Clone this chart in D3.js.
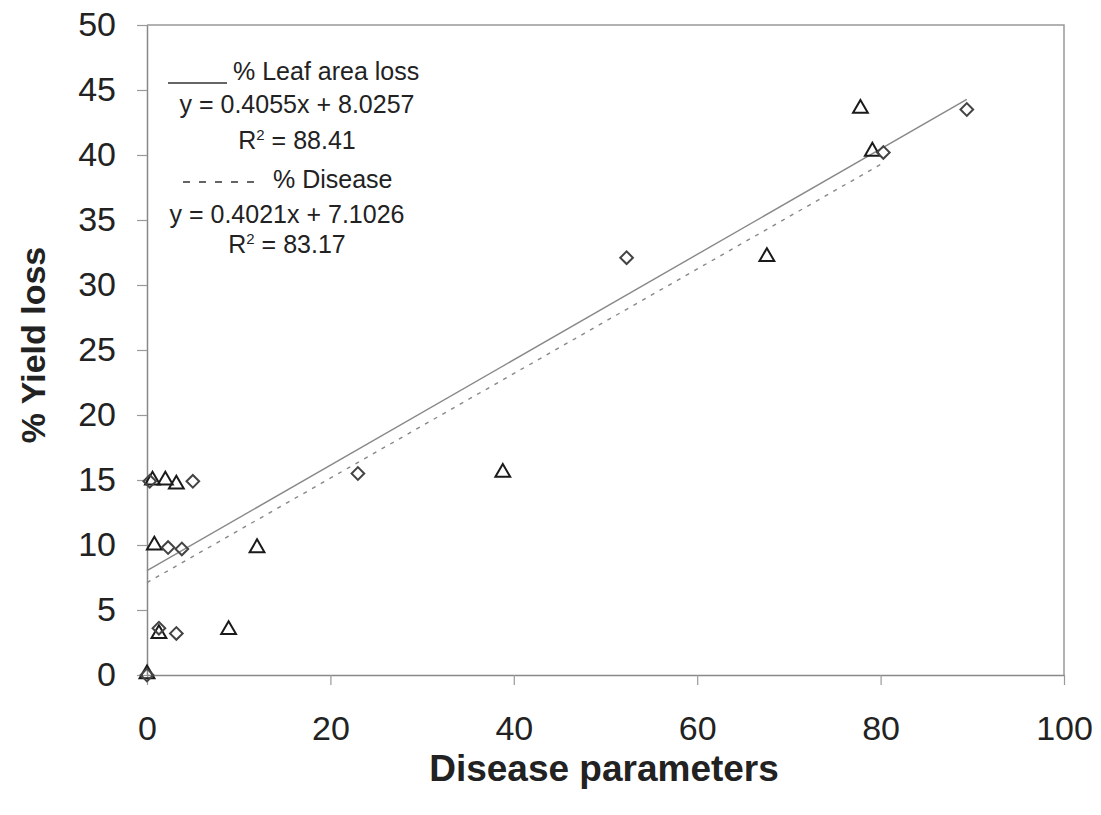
<!DOCTYPE html>
<html>
<head>
<meta charset="utf-8">
<script src="https://cdn.jsdelivr.net/npm/d3@7"></script>
<style>
  body { margin: 0; background: #fff; }
  text { font-family: "Liberation Sans", Arial, sans-serif; fill: #222; }
</style>
</head>
<body>
<script>
var width = 1101;
var height = 815;

// % Leaf area loss (diamonds)
var leafX = [0, 0.3, 1.3, 2.3, 3.2, 3.8, 5.0, 23.0, 52.3, 80.3, 89.4];
var leafY = [0, 14.9, 3.6, 9.8, 3.2, 9.7, 14.9, 15.5, 32.1, 40.2, 43.5];

// % Disease (triangles)
var disX = [0, 0.6, 0.8, 1.3, 2.0, 3.2, 8.9, 12.0, 38.8, 67.6, 79.1, 77.8];
var disY = [0, 14.9, 9.9, 3.1, 14.9, 14.6, 3.4, 9.7, 15.5, 32.1, 40.2, 43.5];

var fits = [
  { name: '% Leaf area loss', slope: 0.4055, icept: 8.0257, r2: '88.41', xmax: 89.4, dash: null },
  { name: '% Disease', slope: 0.4021, icept: 7.1026, r2: '83.17', xmax: 80.3, dash: '4,6' }
];

var xTicks = [0, 20, 40, 60, 80, 100];
var yTicks = [0, 5, 10, 15, 20, 25, 30, 35, 40, 45, 50];

var svg = d3.select('body').append('svg')
    .attr('width', width)
    .attr('height', height);

var x = d3.scaleLinear().domain([0, 100]).range([147, 1064]);
var y = d3.scaleLinear().domain([0, 50]).range([675, 25]);

// plot frame (top and right)
svg.append('path')
    .attr('d', 'M' + x(0) + ',' + y(50) + 'H' + x(100) + 'V' + y(0))
    .attr('fill', 'none')
    .attr('stroke', '#999')
    .attr('stroke-width', 1.5);

// axes
var xAxis = svg.append('g')
    .attr('transform', 'translate(0,' + y(0) + ')')
    .call(d3.axisBottom(x).tickValues(xTicks).tickSize(10).tickPadding(31).tickSizeOuter(0));
var yAxis = svg.append('g')
    .attr('transform', 'translate(' + x(0) + ',0)')
    .call(d3.axisLeft(y).tickValues(yTicks).tickSize(10).tickPadding(21).tickSizeOuter(0));

[xAxis, yAxis].forEach(function(g) {
  g.select('.domain').attr('stroke', '#888').attr('stroke-width', 1.5);
  g.selectAll('.tick line').attr('stroke', '#999').attr('stroke-width', 1.2);
  g.selectAll('.tick text')
      .style('font-family', '"Liberation Sans", Arial, sans-serif')
      .style('font-size', '34px')
      .attr('fill', '#222');
});

// regression lines
svg.selectAll('.fit')
    .data(fits)
  .enter().append('line')
    .attr('class', 'fit')
    .attr('x1', x(0))
    .attr('y1', function(d) { return y(d.icept); })
    .attr('x2', function(d) { return x(d.xmax); })
    .attr('y2', function(d) { return y(d.icept + d.slope * d.xmax); })
    .attr('stroke', '#888')
    .attr('stroke-width', 1.4)
    .attr('stroke-dasharray', function(d) { return d.dash; });

// markers
var tri = d3.symbol().type(d3.symbolTriangle).size(95);
var dia = d3.symbol().type(d3.symbolSquare).size(80);

svg.selectAll('.dis')
    .data(d3.range(disX.length))
  .enter().append('path')
    .attr('class', 'dis')
    .attr('d', tri)
    .attr('transform', function(i) { return 'translate(' + x(disX[i]) + ',' + (y(disY[i]) - 1) + ')'; })
    .attr('fill', 'none')
    .attr('stroke', '#1a1a1a')
    .attr('stroke-width', 2);

svg.selectAll('.leaf')
    .data(d3.range(leafX.length))
  .enter().append('path')
    .attr('class', 'leaf')
    .attr('d', dia)
    .attr('transform', function(i) { return 'translate(' + x(leafX[i]) + ',' + y(leafY[i]) + ') rotate(45)'; })
    .attr('fill', 'none')
    .attr('stroke', '#444')
    .attr('stroke-width', 2);

// legend / equations
var leg = svg.append('g').style('font-size', '25px');
leg.append('line')
    .attr('x1', 168).attr('x2', 227).attr('y1', 83).attr('y2', 83)
    .attr('stroke', '#333').attr('stroke-width', 1.5);
leg.append('text').attr('x', 233).attr('y', 80).text(fits[0].name);
leg.append('text').attr('x', 297).attr('y', 113).attr('text-anchor', 'middle')
    .text('y = ' + fits[0].slope + 'x + ' + fits[0].icept);
leg.append('text').attr('x', 297).attr('y', 149).attr('text-anchor', 'middle')
    .html('R<tspan dy="-9" font-size="15px">2</tspan><tspan dy="9"> = ' + fits[0].r2 + '</tspan>');
leg.append('line')
    .attr('x1', 183).attr('x2', 257).attr('y1', 182).attr('y2', 182)
    .attr('stroke', '#333').attr('stroke-width', 1.5).attr('stroke-dasharray', '7,9');
leg.append('text').attr('x', 273).attr('y', 188).text(fits[1].name);
leg.append('text').attr('x', 287).attr('y', 223).attr('text-anchor', 'middle')
    .text('y = ' + fits[1].slope + 'x + ' + fits[1].icept);
leg.append('text').attr('x', 287).attr('y', 253).attr('text-anchor', 'middle')
    .html('R<tspan dy="-9" font-size="15px">2</tspan><tspan dy="9"> = ' + fits[1].r2 + '</tspan>');

// axis titles
svg.append('text')
    .attr('x', 604).attr('y', 781)
    .attr('text-anchor', 'middle')
    .style('font-size', '37px').style('font-weight', 'bold')
    .text('Disease parameters');
svg.append('text')
    .attr('transform', 'translate(45,345) rotate(-90)')
    .attr('text-anchor', 'middle')
    .style('font-size', '34px').style('font-weight', 'bold')
    .text('% Yield loss');
</script>
</body>
</html>
